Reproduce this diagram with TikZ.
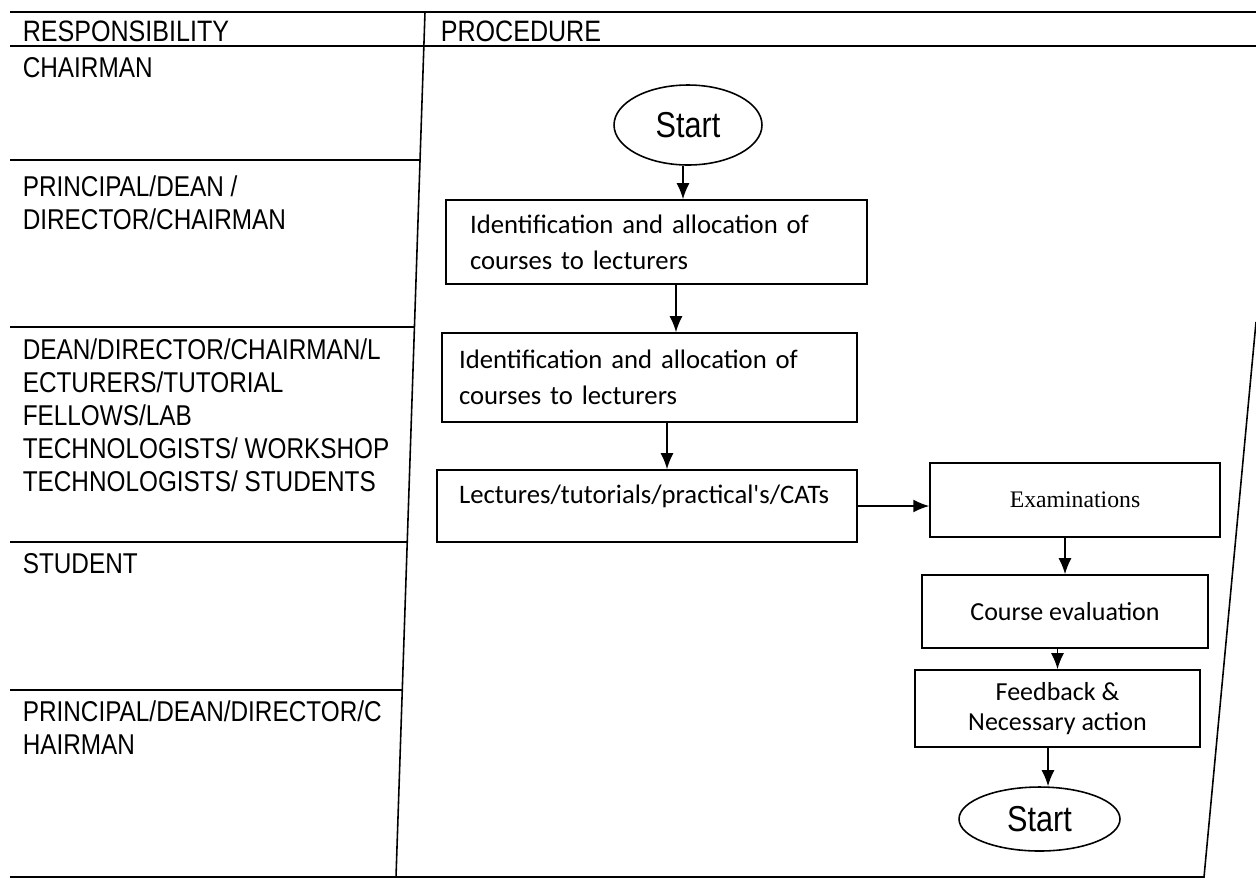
\documentclass[tikz,border=0pt]{standalone}
\usepackage{fontspec}
\setmainfont[FakeStretch=0.85]{Liberation Sans}
\newfontfamily\boxfont{Carlito}
\newfontfamily\examfont{Liberation Serif}
\usetikzlibrary{shapes.geometric,arrows.meta}
\begin{document}
\begin{tikzpicture}[x=0.02cm,y=-0.02cm,line width=0.9pt,>={Latex[length=0.32cm,width=0.26cm]},
  role/.style={anchor=north west,align=left,inner sep=0pt,font=\fontsize{16.3}{18.8}\selectfont},
  stepbox/.style={draw,rectangle,inner ysep=0pt,font=\boxfont\fontsize{15.2}{20.5}\selectfont},
  ends/.style={draw,ellipse,inner sep=0pt,font=\fontsize{20.5}{22}\selectfont}]
\useasboundingbox (0,0) rectangle (1256,880);
% table frame
\draw (10,12) -- (1256,12);
\draw (10,46) -- (1256,46);
\draw (425,12) -- (396,877);
\draw (10,877) -- (1204,877) -- (1256,322);
\foreach \y/\x in {160/420,327/414,542/407,690/402}
\draw (10,\y) -- (\x,\y);
% responsibilities
\node[role,font=\fontsize{16.8}{18}\selectfont] (resp) at (22,20) {RESPONSIBILITY};
\node[role,font=\fontsize{16.8}{18}\selectfont] (proc) at (440,20) {PROCEDURE};
\node[role] (chair) at (22,57) {CHAIRMAN};
\node[role] (princ) at (22,175) {PRINCIPAL/DEAN /\\DIRECTOR/CHAIRMAN};
\node[role] (staff) at (22,338) {DEAN/DIRECTOR/CHAIRMAN/L\\ECTURERS/TUTORIAL\\FELLOWS/LAB\\TECHNOLOGISTS/ WORKSHOP\\TECHNOLOGISTS/ STUDENTS};
\node[role] (stud) at (22,553) {STUDENT};
\node[role] (head) at (22,700) {PRINCIPAL/DEAN/DIRECTOR/C\\HAIRMAN};
% procedure
\node[ends,minimum width=2.96cm,minimum height=1.6cm] (start) at (688,125) {Start};
\node[stepbox,minimum width=8.42cm,minimum height=1.68cm,inner xsep=0.48cm,text width=7.46cm,align=left] (alloc) at (656.5,242) {Identification and allocation of\\courses to lecturers};
\node[stepbox,minimum width=8.3cm,minimum height=1.78cm,inner xsep=0.34cm,text width=7.62cm,align=left] (alloc2) at (649.5,377.5) {Identification and allocation of\\courses to lecturers};
\node[stepbox,minimum width=8.4cm,minimum height=1.44cm,inner xsep=0.44cm,text width=7.52cm,text depth=0.46cm,align=left] (lect) at (647,506) {Lectures/tutorials/practical's/CATs};
\node[stepbox,minimum width=5.8cm,minimum height=1.48cm,font=\examfont\fontsize{13.5}{15}\selectfont] (exam) at (1075,500) {Examinations};
\node[stepbox,minimum width=5.72cm,minimum height=1.46cm,font=\boxfont\fontsize{14.8}{17}\selectfont] (eval) at (1065,611.5) {Course evaluation};
\node[stepbox,minimum width=5.7cm,minimum height=1.54cm,align=center,font=\boxfont\fontsize{14.8}{17}\selectfont] (feed) at (1057.5,708.5) {Feedback \&\\Necessary action};
\node[ends,minimum width=3.22cm,minimum height=1.28cm] (stop) at (1039.5,819) {Start};
% arrows
\coordinate (s1) at ([xshift=-0.1cm]start.south);
\coordinate (a1) at ([xshift=0.39cm]alloc.south);
\coordinate (a2) at ([xshift=0.35cm]alloc2.south);
\coordinate (f1) at ([xshift=-0.19cm]feed.south);
\draw[->] (s1) -- (s1 |- alloc.north);
\draw[->] (a1) -- (a1 |- alloc2.north);
\draw[->] (a2) -- (a2 |- lect.north);
\draw[->] (lect.east) -- (lect.east -| exam.west);
\draw[->] (eval.north |- exam.south) -- (eval.north);
\draw[->] (feed.north |- eval.south) -- (feed.north);
\draw[->] (f1) -- (f1 |- stop.north);
\end{tikzpicture}
\end{document}
